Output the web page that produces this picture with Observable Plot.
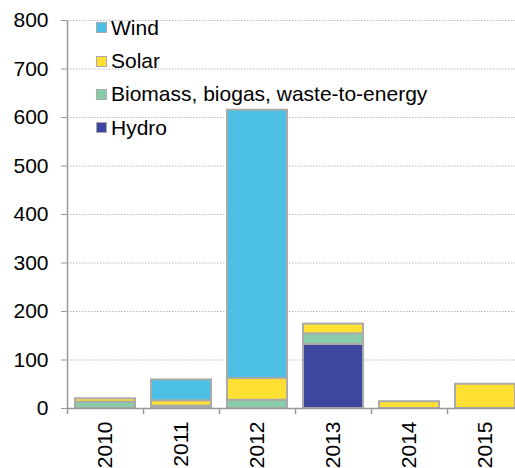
<!DOCTYPE html>
<html>
<head>
<meta charset="utf-8">
<script src="https://cdn.jsdelivr.net/npm/d3@7"></script>
<script src="https://cdn.jsdelivr.net/npm/@observablehq/plot@0.6"></script>
<style>
  html, body { margin: 0; padding: 0; background: white; overflow: hidden; }
  #wrap { position: relative; width: 515px; height: 468px; overflow: hidden; font-family: "Liberation Sans", Arial, sans-serif; }
  #legend { position: absolute; left: 96px; top: 11px; }
  .row { display: flex; align-items: center; height: 33.4px; font-size: 21px; color: #000; white-space: nowrap; }
  .sw { box-sizing: border-box; width: 11px; height: 11px; border: 1.5px solid #aaa; margin-right: 4px; }
</style>
</head>
<body>
<div id="wrap"><div id="chart"></div><div id="legend"></div></div>
<script>
const years = ["2010", "2011", "2012", "2013", "2014", "2015"];
const hydro   = [0, 0, 0, 132, 0, 0];
const biomass = [13, 5, 17, 22, 0, 0];
const solar   = [7, 11, 45, 20, 14, 50];
const wind    = [0, 43, 553, 0, 0, 0];
const seriesNames  = ["Hydro", "Biomass, biogas, waste-to-energy", "Solar", "Wind"];
const seriesColors = ["#3D47A0", "#88CCAA", "#FFE033", "#4BC0E4"];
const seriesValues = [hydro, biomass, solar, wind];
const yTicks = [0, 100, 200, 300, 400, 500, 600, 700, 800];

const data = [];
seriesNames.forEach((s, si) => {
  years.forEach((yr, i) => {
    const v = seriesValues[si][i];
    if (v > 0) data.push({year: yr, series: s, value: v});
  });
});

const chart = Plot.plot({
  width: 515,
  height: 468,
  marginLeft: 67,
  marginTop: 20,
  marginBottom: 60,
  marginRight: 0,
  style: {fontFamily: "'Liberation Sans', Arial, sans-serif", fontSize: "21px", color: "black", background: "white"},
  x: {domain: years, range: [67, 523], paddingInner: 0.21, paddingOuter: 0.105, round: false, label: null},
  y: {domain: [0, 800], label: null},
  color: {domain: seriesNames, range: seriesColors},
  marks: [
    Plot.ruleY(yTicks.slice(1), {stroke: "#bbb", strokeWidth: 1, strokeDasharray: "1.5,1.5"}),
    Plot.barY(data, {x: "year", y: "value", fill: "series", order: seriesNames, stroke: "#aaa", strokeWidth: 2}),
    Plot.ruleY([0], {stroke: "#999", strokeWidth: 1.5}),
    Plot.ruleX([years[0]], {x: d => d, dx: -38, stroke: "#999", strokeWidth: 1.5}),
    Plot.ruleX(years, {x: d => d, dx: -38, y1: 0, y2: 0, insetBottom: -6, stroke: "#999", strokeWidth: 1.5}),
    Plot.axisY({ticks: yTicks, tickSize: 6, tickPadding: 13, stroke: "#999", fill: "black", fontSize: 21, label: null}),
    Plot.axisX({tickRotate: -90, tickSize: 0, tickPadding: 13, fill: "black", fontSize: 21, label: null})
  ]
});
document.getElementById("chart").appendChild(chart);

const legend = document.getElementById("legend");
[...seriesNames].reverse().forEach((s) => {
  const i = seriesNames.indexOf(s);
  const row = document.createElement("div");
  row.className = "row";
  const sw = document.createElement("div");
  sw.className = "sw";
  sw.style.background = seriesColors[i];
  const t = document.createElement("span");
  t.textContent = s;
  row.appendChild(sw);
  row.appendChild(t);
  legend.appendChild(row);
});
</script>
</body>
</html>
